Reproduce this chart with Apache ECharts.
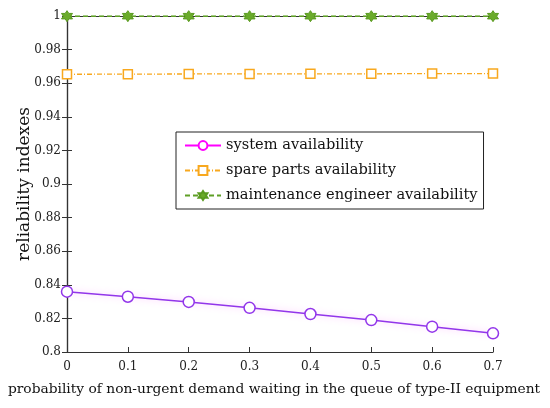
<!DOCTYPE html>
<html lang="en">
<head>
    <meta charset="utf-8" />
    <title>reliability indexes</title>
    <script src="https://cdn.jsdelivr.net/npm/echarts@6/dist/echarts.min.js"></script>
    <style>
        html, body { margin: 0; padding: 0; background: #fff; }
    </style>
</head>
<body>
    <div id="main" style="width: 550px;height:408px;"></div>
    <script>
        // x values: probability of non-urgent demand waiting
        var probs = [0, 0.1, 0.2, 0.3, 0.4, 0.5, 0.6, 0.7];
        var systemAvail = [0.8359, 0.8329, 0.8298, 0.8263, 0.8226, 0.8190, 0.8151, 0.8111];
        var spareAvail = [0.9653, 0.9654, 0.9655, 0.9655, 0.9656, 0.9656, 0.9657, 0.9657];
        var engineerAvail = [0.9999, 0.9999, 0.9999, 0.9999, 0.9999, 0.9999, 0.9999, 0.9999];
        var seriesNames = ['system availability', 'spare parts availability', 'maintenance engineer availability'];

        var serif = 'DejaVu Serif';
        var star = 'path://M0,-10 L2.9,-5 L8.66,-5 L5.8,0 L8.66,5 L2.9,5 L0,10 L-2.9,5 L-8.66,5 L-5.8,0 L-8.66,-5 L-2.9,-5 Z';

        function pairs(vals) {
            return probs.map(function (p, i) { return [p, vals[i]]; });
        }

        var chartDom = document.getElementById('main');
        var myChart = echarts.init(chartDom);

        var axisLine = { show: true, lineStyle: { color: '#333', width: 1.2 } };
        var tickIn = { show: true, inside: true, length: 5, lineStyle: { color: '#333' } };

        var option = {
            animation: false,
            grid: { left: 67, right: 57, top: 16, bottom: 56, outerBoundsMode: 'none' },
            legend: {
                orient: 'vertical',
                left: 176,
                top: 132,
                padding: [6, 6, 6, 8],
                itemGap: 10,
                itemWidth: 36,
                itemHeight: 11,
                borderColor: '#222',
                borderWidth: 1,
                backgroundColor: '#fff',
                textStyle: { fontFamily: serif, fontSize: 14.6, color: '#111' },
                data: [
                    { name: seriesNames[0], itemStyle: { borderColor: '#ff00ff' }, lineStyle: { color: '#ff00ff' } },
                    { name: seriesNames[1] },
                    { name: seriesNames[2] }
                ]
            },
            xAxis: [{
                type: 'value',
                min: 0, max: 0.7, interval: 0.1,
                name: 'probability of non-urgent demand waiting in the queue of type-II equipment',
                nameLocation: 'middle',
                nameGap: 30,
                nameMoveOverlap: false,
                nameTextStyle: { fontFamily: serif, fontSize: 13.8, color: '#111', padding: [0, 12, 0, 0] },
                axisLine: axisLine,
                axisTick: tickIn,
                axisLabel: { fontFamily: serif, fontSize: 12, color: '#222', margin: 9 },
                splitLine: { show: false }
            }, {
                type: 'value',
                position: 'top',
                min: 0, max: 0.7, interval: 0.1,
                axisLine: axisLine,
                axisTick: { show: false },
                axisLabel: { show: false },
                splitLine: { show: false }
            }],
            yAxis: [{
                type: 'value',
                min: 0.8, max: 1, interval: 0.02,
                name: 'reliability indexes',
                nameLocation: 'middle',
                nameGap: 34,
                nameMoveOverlap: false,
                nameTextStyle: { fontFamily: serif, fontSize: 17, color: '#111' },
                axisLine: axisLine,
                axisTick: tickIn,
                axisLabel: { fontFamily: serif, fontSize: 12, color: '#222', margin: 6 },
                splitLine: { show: false }
            }, {
                type: 'value',
                position: 'right',
                min: 0.8, max: 1, interval: 0.02,
                axisLine: axisLine,
                axisTick: tickIn,
                axisLabel: { show: false },
                splitLine: { show: false }
            }],
            series: [
                {
                    name: seriesNames[0],
                    type: 'line',
                    data: pairs(systemAvail),
                    symbol: 'circle',
                    symbolSize: 11,
                    itemStyle: { color: '#fff', borderColor: '#9236ea', borderWidth: 1.5 },
                    lineStyle: { color: '#9236ea', width: 1.5, shadowColor: 'rgba(255,120,255,0.5)', shadowBlur: 6 },
                    z: 3
                },
                {
                    name: seriesNames[1],
                    type: 'line',
                    data: pairs(spareAvail),
                    symbol: 'rect',
                    symbolSize: 9,
                    itemStyle: { color: '#fff', borderColor: '#f8a81e', borderWidth: 1.5 },
                    lineStyle: { color: '#f8a81e', width: 1.3, type: [5, 2, 1, 2] },
                    z: 3
                },
                {
                    name: seriesNames[2],
                    type: 'line',
                    data: pairs(engineerAvail),
                    symbol: star,
                    symbolSize: 11,
                    itemStyle: { color: '#6aab2a', borderColor: '#5a9a20', borderWidth: 1 },
                    lineStyle: { color: '#5f9f26', width: 1.6, type: [5, 3] },
                    z: 3
                }
            ]
        };

        myChart.setOption(option);
    </script>
</body>
</html>
